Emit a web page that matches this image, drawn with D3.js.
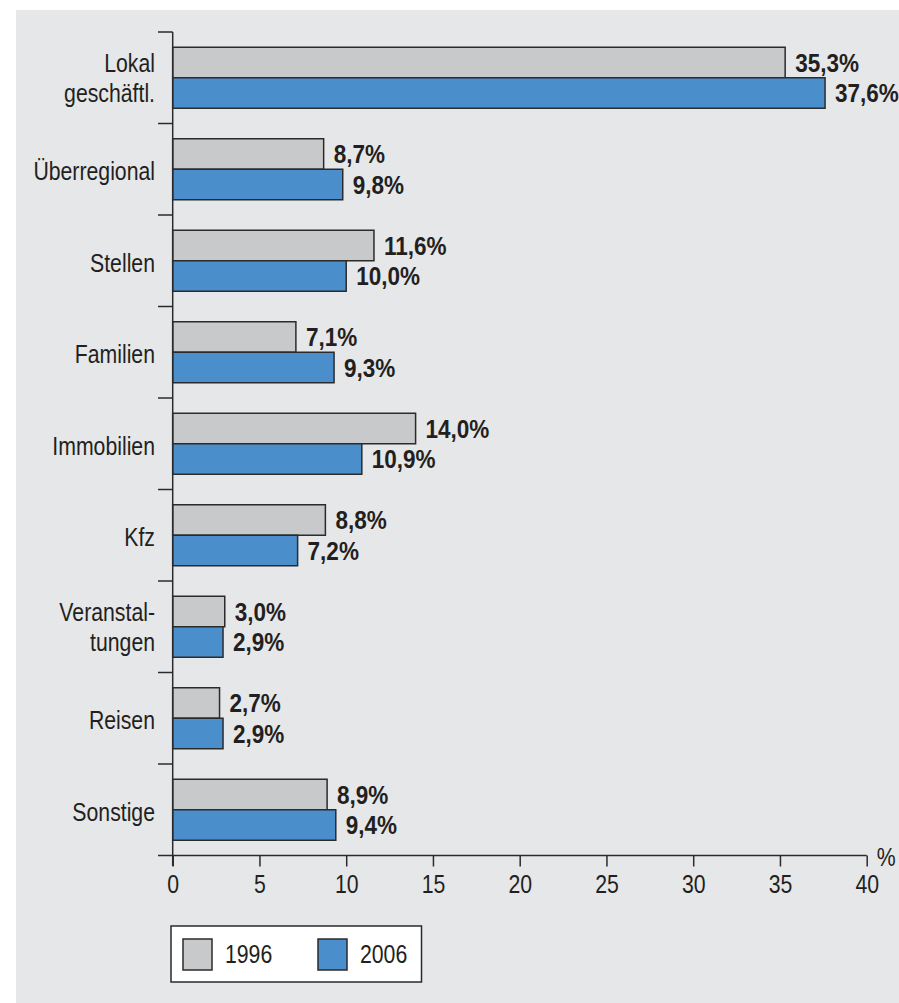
<!DOCTYPE html>
<html>
<head>
<meta charset="utf-8">
<script src="https://cdn.jsdelivr.net/npm/d3@7"></script>
<style>
  html, body { margin: 0; padding: 0; background: #ffffff; }
  svg { display: block; }
  text { font-family: "Liberation Sans", Arial, sans-serif; fill: #231f20; }
</style>
</head>
<body>
<svg id="chart" width="899" height="1003"></svg>
<script>
// Anzeigenumfang nach Rubriken, Anteile in Prozent
const categories = [
  ["Lokal", "geschäftl."],
  ["Überregional"],
  ["Stellen"],
  ["Familien"],
  ["Immobilien"],
  ["Kfz"],
  ["Veranstal-", "tungen"],
  ["Reisen"],
  ["Sonstige"]
];
const series = ["1996", "2006"];
const values1996 = [35.3, 8.7, 11.6, 7.1, 14.0, 8.8, 3.0, 2.7, 8.9];
const values2006 = [37.6, 9.8, 10.0, 9.3, 10.9, 7.2, 2.9, 2.9, 9.4];
const xTicks = [0, 5, 10, 15, 20, 25, 30, 35, 40];
const colors = { "1996": "#c8c9cb", "2006": "#4a8fcc" };

const svg = d3.select("#chart");
const ink = "#2b2b2d";
// schmale Schrift: horizontal gestauchte Liberation Sans
const narrowReg = 0.85, narrowBold = 0.9;

// Hintergrundfläche
svg.append("rect")
  .attr("x", 16).attr("y", 10)
  .attr("width", 899 - 16).attr("height", 1003 - 10)
  .attr("fill", "#e6e7e9");

const keys = categories.map(c => c.join(" "));
const x = d3.scaleLinear().domain([0, 40]).range([172.7, 866.7]);
const y = d3.scaleBand().domain(keys).range([32, 855.5]).padding(0);
const ySub = d3.scaleBand().domain(series).range([0, y.bandwidth()])
  .paddingInner(0).paddingOuter(0.5);

const rows = keys.map((k, i) => ({
  key: k,
  lines: categories[i],
  vals: [
    { s: "1996", v: values1996[i] },
    { s: "2006", v: values2006[i] }
  ]
}));

const fmt = v => d3.format(".1f")(v).replace(".", ",") + "%";

// Balken
const g = svg.append("g");
const rowG = g.selectAll("g.row").data(rows).join("g")
  .attr("class", "row")
  .attr("transform", d => `translate(0,${y(d.key)})`);

rowG.selectAll("rect").data(d => d.vals).join("rect")
  .attr("x", x(0))
  .attr("y", d => ySub(d.s))
  .attr("width", d => x(d.v) - x(0))
  .attr("height", ySub.bandwidth())
  .attr("fill", d => colors[d.s])
  .attr("stroke", ink)
  .attr("stroke-width", 1.5);

rowG.selectAll("text.val").data(d => d.vals).join("text")
  .attr("class", "val")
  .attr("transform", d =>
    `translate(${x(d.v) + 10},${ySub(d.s) + ySub.bandwidth() / 2 + 9}) scale(${narrowBold},1)`)
  .attr("font-size", 25)
  .attr("font-weight", "bold")
  .text(d => fmt(d.v));

// Kategorienbeschriftung
rowG.append("text")
  .attr("class", "cat")
  .attr("text-anchor", "end")
  .attr("font-size", 25)
  .attr("transform", `translate(155,0) scale(${narrowReg},1)`)
  .each(function(d) {
    const t = d3.select(this);
    const mid = y.bandwidth() / 2;
    if (d.lines.length === 1) {
      t.append("tspan").attr("x", 0).attr("y", mid + 11).text(d.lines[0]);
    } else {
      d.lines.forEach((l, j) => {
        t.append("tspan").attr("x", 0).attr("y", mid - 6 + j * 30).text(l);
      });
    }
  });

// Y-Achse mit Trennstrichen zwischen den Kategorien
const yAxisG = svg.append("g");
yAxisG.append("line")
  .attr("x1", x(0)).attr("x2", x(0))
  .attr("y1", 32).attr("y2", 866)
  .attr("stroke", ink).attr("stroke-width", 1.5);
const sepYs = keys.map(k => y(k));
yAxisG.selectAll("line.sep").data(sepYs).join("line")
  .attr("class", "sep")
  .attr("x1", 158).attr("x2", x(0))
  .attr("y1", d => d).attr("y2", d => d)
  .attr("stroke", ink).attr("stroke-width", 1.5);

// X-Achse
const axisY = 855.5;
const xAxis = d3.axisBottom(x).tickValues(xTicks).tickSize(11).tickPadding(9)
  .tickFormat(d3.format("d"));
const xg = svg.append("g").attr("transform", `translate(0,${axisY})`).call(xAxis);
xg.select(".domain").remove();
xg.selectAll(".tick line").attr("stroke", ink).attr("stroke-width", 1.5);
xg.selectAll(".tick text")
  .attr("font-size", 25)
  .attr("font-family", null)
  .attr("fill", "#231f20")
  .attr("transform", `scale(${narrowReg},1)`);
xg.append("line")
  .attr("x1", 158).attr("x2", x(40))
  .attr("y1", 0).attr("y2", 0)
  .attr("stroke", ink).attr("stroke-width", 1.5);
svg.append("text")
  .attr("transform", `translate(${x(40) + 10},866) scale(${narrowReg},1)`)
  .attr("font-size", 25)
  .text("%");

// Legende
const leg = svg.append("g");
leg.append("rect")
  .attr("x", 171).attr("y", 926)
  .attr("width", 250.5).attr("height", 56)
  .attr("fill", "#ffffff")
  .attr("stroke", ink).attr("stroke-width", 1.5);
const legX = [183, 318];
series.forEach((s, i) => {
  leg.append("rect")
    .attr("x", legX[i]).attr("y", 939)
    .attr("width", 29).attr("height", 31)
    .attr("fill", colors[s])
    .attr("stroke", ink).attr("stroke-width", 1.5);
  leg.append("text")
    .attr("transform", `translate(${legX[i] + 42},963) scale(${narrowReg},1)`)
    .attr("font-size", 25)
    .text(s);
});
</script>
</body>
</html>
